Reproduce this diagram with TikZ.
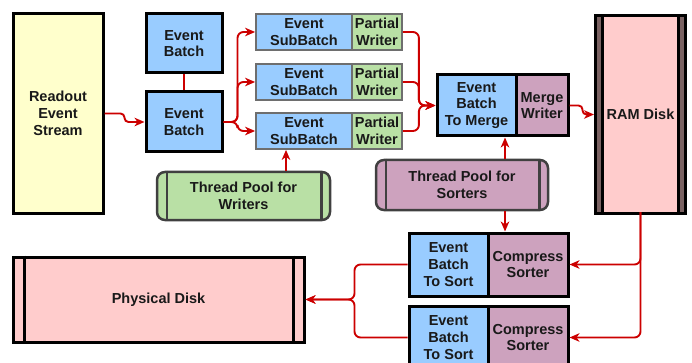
\documentclass[tikz,border=0pt]{standalone}
\usepackage{fontspec}
\setmainfont{Liberation Sans}
\usetikzlibrary{arrows.meta}
\definecolor{cblue}{HTML}{99CCFF}
\definecolor{cgreen}{HTML}{B9E0A5}
\definecolor{cpurple}{HTML}{CDA2BE}
\definecolor{cpink}{HTML}{FFCCCC}
\definecolor{cyellow}{HTML}{FFFFCC}
\definecolor{cred}{HTML}{CC0000}
\definecolor{cgray}{HTML}{6E6E6E}
\definecolor{cdark}{HTML}{404040}
\definecolor{cstripe}{HTML}{7A6262}
\tikzset{
  base/.style={draw, align=center, inner sep=0pt, text=black!90,
    font=\bfseries\fontsize{14.5}{16.7}\selectfont},
  heavy/.style={base, line width=3pt, draw=black},
  light/.style={base, line width=1.8pt, draw=cgray},
  pool/.style={base, line width=2.5pt, draw=cdark, rounded corners=8pt},
  arr/.style={draw=cred, line width=1.9pt, rounded corners=6pt,
    -{Stealth[length=10pt,width=8.5pt,inset=3pt]}},
  plain/.style={draw=cred, line width=1.9pt},
}
\begin{document}
\begin{tikzpicture}[x=1pt,y=-1pt]
\useasboundingbox (0,0) rectangle (692,363);
\clip (0,0) rectangle (692,363);
% nodes
\node[heavy, fill=cyellow, minimum width=90pt, minimum height=199pt] (readout) at (58,113.5) {Readout\\Event\\Stream};
\node[heavy, fill=cblue, minimum width=76pt, minimum height=59pt] (eb1) at (184,43.5) {Event\\Batch};
\node[heavy, fill=cblue, minimum width=76pt, minimum height=60pt] (eb2) at (184,122) {Event\\Batch};
\node[light, fill=cblue, minimum width=96pt, minimum height=36pt] (sb1) at (304,32) {Event\\SubBatch};
\node[light, fill=cgreen, minimum width=50pt, minimum height=36pt] (pw1) at (377,32) {Partial\\Writer};
\node[light, fill=cblue, minimum width=96pt, minimum height=36pt] (sb2) at (304,82) {Event\\SubBatch};
\node[light, fill=cgreen, minimum width=50pt, minimum height=36pt] (pw2) at (377,82) {Partial\\Writer};
\node[light, fill=cblue, minimum width=96pt, minimum height=36pt] (sb3) at (304,131) {Event\\SubBatch};
\node[light, fill=cgreen, minimum width=50pt, minimum height=36pt] (pw3) at (377,131) {Partial\\Writer};
\node[pool, fill=cgreen, minimum width=173pt, minimum height=48pt] (tpw) at (243.5,196) {Thread Pool for\\Writers};
\node[heavy, fill=cblue, minimum width=79pt, minimum height=61pt] (etm) at (476.5,105.5) {Event\\Batch\\To Merge};
\node[heavy, fill=cpurple, minimum width=52pt, minimum height=61pt] (mw) at (542,105.5) {Merge\\Writer};
\node[heavy, fill=cpink, minimum width=90pt, minimum height=198pt, outer sep=0pt] (ram) at (640.5,114.5) {RAM Disk};
\node[pool, fill=cpurple, minimum width=172pt, minimum height=50pt] (tps) at (462,185) {Thread Pool for\\Sorters};
\node[heavy, fill=cblue, minimum width=79pt, minimum height=63pt] (ebs1) at (448.5,264.5) {Event\\Batch\\To Sort};
\node[heavy, fill=cpurple, minimum width=80pt, minimum height=63pt] (cs1) at (528,264.5) {Compress\\Sorter};
\node[heavy, fill=cblue, minimum width=79pt, minimum height=63pt] (ebs2) at (448.5,337.5) {Event\\Batch\\To Sort};
\node[heavy, fill=cpurple, minimum width=80pt, minimum height=63pt] (cs2) at (528,337.5) {Compress\\Sorter};
\node[heavy, fill=cpink, minimum width=291pt, minimum height=85pt] (pd) at (158.5,299.5) {Physical Disk};
% stripes
\fill[cstripe] (ram.north west) rectangle ([xshift=7pt]ram.south west);
\fill[cstripe] ([xshift=-7pt]ram.north east) rectangle (ram.south east);
\draw[black, line width=2.2pt] ([xshift=7pt]ram.north west) -- ([xshift=7pt]ram.south west);
\draw[black, line width=2.2pt] ([xshift=-7pt]ram.north east) -- ([xshift=-7pt]ram.south east);
\draw[black, line width=3pt] (ram.north west) rectangle (ram.south east);
\draw[black, line width=3pt] ([xshift=13pt]pd.north west) -- ([xshift=13pt]pd.south west);
\draw[black, line width=3pt] ([xshift=-12pt]pd.north east) -- ([xshift=-12pt]pd.south east);
\draw[cdark, line width=2.5pt] ([xshift=11pt]tpw.north west) -- ([xshift=11pt]tpw.south west);
\draw[cdark, line width=2.5pt] ([xshift=-10pt]tpw.north east) -- ([xshift=-10pt]tpw.south east);
\draw[cdark, line width=2.5pt] ([xshift=11pt]tps.north west) -- ([xshift=11pt]tps.south west);
\draw[cdark, line width=2.5pt] ([xshift=-10pt]tps.north east) -- ([xshift=-10pt]tps.south east);
% connectors
\draw[plain] (eb1.south) -- (eb2.north);
\draw[arr, rounded corners=4pt] (readout.east) -- ++(20,0) |- (eb2.west);
\draw[arr] (eb2.east) -- ++(14,0) |- (sb1.west);
\draw[arr] (eb2.east) -- ++(14,0) |- (sb2.west);
\draw[arr] (eb2.east) -- ++(14,0) |- (sb3.west);
\coordinate (tpwx) at ([xshift=-18pt]sb3.south);
\draw[arr] (tpw.north -| tpwx) -- (tpwx);
\draw[arr] (pw1.east) -- ++(16,0) |- (etm.west);
\draw[arr] (pw2.east) -- ++(16,0) |- (etm.west);
\draw[arr] (pw3.east) -- ++(16,0) |- (etm.west);
\draw[arr, rounded corners=4pt] (mw.east) -- ++(13,0) |- ([xshift=-1.5pt]ram.west);
\coordinate (tpsx) at ([xshift=28.5pt]etm.south);
\draw[arr] (tps.north -| tpsx) -- (tpsx);
\draw[arr] (tps.south -| tpsx) -- (cs1.north -| tpsx);
\draw[arr] ([yshift=1.5pt]ram.south) |- (cs1.east);
\draw[arr] ([yshift=1.5pt]ram.south) |- (cs2.east);
\draw[arr] (ebs1.west) -- ++(-53,0) |- (pd.east);
\draw[arr] (ebs2.west) -- ++(-53,0) |- (pd.east);
\end{tikzpicture}
\end{document}
